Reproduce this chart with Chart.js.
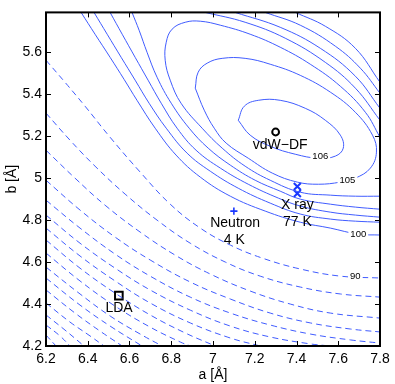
<!DOCTYPE html>
<html><head><meta charset="utf-8">
<script src="https://cdn.jsdelivr.net/npm/chart.js@4"></script>
<style>html,body{margin:0;padding:0;background:#fff}canvas{display:block}</style>
</head><body>
<canvas id="c" width="395" height="384"></canvas>
<script>
// ---- axes ----
const xRange = [6.2, 7.8];
const yRange = [4.2, 5.79];
const xTicks = [6.2, 6.4, 6.6, 6.8, 7.0, 7.2, 7.4, 7.6, 7.8];
const yTicks = [4.2, 4.4, 4.6, 4.8, 5.0, 5.2, 5.4, 5.6];

// ---- contour lines: [a, b] ----
const lvl106 = [[7.121,5.276],[7.150,5.343],[7.217,5.371],[7.322,5.371],[7.442,5.333],[7.538,5.276],[7.610,5.205],[7.624,5.143],[7.586,5.105],[7.505,5.095],[7.394,5.114],[7.274,5.152],[7.178,5.205],[7.121,5.276]];
const lvl105 = [[6.915,5.429],[6.929,5.505],[6.972,5.548],[7.044,5.571],[7.154,5.571],[7.274,5.543],[7.418,5.490],[7.562,5.410],[7.682,5.314],[7.764,5.205],[7.783,5.124],[7.754,5.048],[7.682,5.000],[7.610,4.981],[7.505,4.971],[7.404,4.981],[7.284,5.024],[7.169,5.095],[7.063,5.167],[7.006,5.238],[6.958,5.324],[6.915,5.429]];
const lvl104 = [[7.8,5.195],[7.730,5.314],[7.610,5.438],[7.466,5.543],[7.322,5.624],[7.178,5.686],[7.035,5.729],[6.939,5.748],[6.867,5.743],[6.804,5.710],[6.776,5.648],[6.771,5.562],[6.795,5.467],[6.847,5.357],[6.948,5.238],[7.044,5.143],[7.154,5.057],[7.274,4.990],[7.418,4.933],[7.562,4.919],[7.682,4.914],[7.8,4.914]];
const lvl103Near = [[6.612,5.790],[6.646,5.705],[6.684,5.600],[6.732,5.481],[6.800,5.357],[6.886,5.238],[6.977,5.143],[7.083,5.062],[7.202,4.990],[7.322,4.938],[7.418,4.900],[7.562,4.876],[7.682,4.862],[7.8,4.852]];
const lvl103Far = [[6.963,5.790],[7.154,5.743],[7.346,5.667],[7.538,5.552],[7.682,5.429],[7.8,5.276]];
const lvl102Near = [[6.507,5.790],[6.565,5.686],[6.627,5.576],[6.689,5.467],[6.752,5.357],[6.828,5.238],[6.919,5.133],[7.035,5.048],[7.169,4.971],[7.313,4.905],[7.418,4.867],[7.562,4.838],[7.682,4.824],[7.8,4.814]];
const lvl102Far = [[7.106,5.790],[7.322,5.719],[7.514,5.619],[7.682,5.486],[7.8,5.333]];
const lvl101Near = [[6.430,5.790],[6.493,5.686],[6.560,5.576],[6.627,5.467],[6.694,5.357],[6.776,5.238],[6.876,5.119],[6.987,5.033],[7.121,4.952],[7.274,4.881],[7.418,4.829],[7.562,4.805],[7.682,4.795],[7.8,4.790]];
const lvl101Far = [[7.250,5.790],[7.418,5.729],[7.586,5.629],[7.706,5.524],[7.8,5.405]];
const lvl100Near = [[6.368,5.790],[6.435,5.686],[6.507,5.576],[6.574,5.471],[6.636,5.371],[6.723,5.238],[6.823,5.110],[6.939,5.005],[7.083,4.914],[7.250,4.843],[7.418,4.790],[7.562,4.762],[7.696,4.733],[7.8,4.729]];
const lvl100Far = [[7.394,5.790],[7.538,5.724],[7.682,5.619],[7.8,5.457]];
const lvl90 = [[6.2,5.562],[6.291,5.457],[6.387,5.343],[6.507,5.195],[6.651,5.029],[6.795,4.876],[6.939,4.762],[7.083,4.681],[7.236,4.619],[7.418,4.567],[7.610,4.533],[7.8,4.524]];
const lvl80 = [[6.2,5.310],[6.315,5.181],[6.435,5.057],[6.579,4.924],[6.732,4.800],[6.891,4.690],[7.059,4.600],[7.226,4.533],[7.418,4.481],[7.610,4.448],[7.8,4.433]];
const lvl70 = [[6.2,5.133],[6.339,5.000],[6.483,4.871],[6.651,4.743],[6.819,4.633],[6.987,4.543],[7.178,4.462],[7.370,4.400],[7.562,4.357],[7.8,4.333]];
const lvl60 = [[6.2,4.990],[6.363,4.848],[6.531,4.719],[6.699,4.610],[6.891,4.505],[7.083,4.424],[7.274,4.357],[7.466,4.310],[7.658,4.281],[7.8,4.267]];
const lvl50 = [[6.2,4.895],[6.363,4.762],[6.531,4.638],[6.699,4.533],[6.891,4.433],[7.083,4.357],[7.274,4.300],[7.466,4.257],[7.658,4.229],[7.8,4.214]];
const lvl40 = [[6.2,4.824],[6.363,4.690],[6.531,4.571],[6.699,4.467],[6.891,4.371],[7.083,4.295],[7.274,4.243],[7.466,4.210],[7.562,4.2]];
const lvl30 = [[6.2,4.762],[6.363,4.629],[6.531,4.510],[6.699,4.405],[6.891,4.310],[7.083,4.238],[7.226,4.2]];
const lvl20 = [[6.2,4.705],[6.363,4.571],[6.531,4.452],[6.699,4.348],[6.867,4.262],[7.011,4.2]];
const lvl10 = [[6.2,4.643],[6.363,4.510],[6.531,4.390],[6.699,4.290],[6.843,4.219],[6.891,4.2]];
const lvl0 = [[6.2,4.576],[6.363,4.448],[6.507,4.343],[6.651,4.257],[6.756,4.2]];
const lvlM10 = [[6.2,4.524],[6.363,4.395],[6.507,4.295],[6.660,4.2]];
const lvlM20 = [[6.2,4.467],[6.339,4.357],[6.459,4.271],[6.565,4.2]];
const lvlM30 = [[6.2,4.405],[6.315,4.314],[6.411,4.248],[6.478,4.2]];
const lvlM40 = [[6.2,4.348],[6.291,4.276],[6.382,4.2]];
const lvlM50 = [[6.2,4.300],[6.267,4.248],[6.315,4.2]];
const lvlM60 = [[6.2,4.252],[6.248,4.2]];

// contour labels
const levelText = ['106', '105', '100', '90'];
const levelA = [7.514, 7.644, 7.696, 7.682];
const levelB = [5.105, 4.990, 4.733, 4.533];

// ---- marked points ----
const vdwPoint = [[7.30, 5.22]];
const xrayPoints = [[7.404, 4.960], [7.404, 4.927]];
const neutronPoint = [[7.10, 4.843]];
const ldaPoint = [[6.549, 4.440]];

// annotation texts
const noteText = ['vdW\u2212DF', 'X ray', '77 K', 'Neutron', '4 K', 'LDA'];
const noteA = [7.322, 7.404, 7.404, 7.106, 7.102, 6.550];
const noteB = [5.157, 4.871, 4.790, 4.786, 4.705, 4.381];

const FONT = "'Liberation Sans', Arial, Helvetica, sans-serif";
const LINE = 'rgb(64,92,255)';
const MARK_BLUE = 'rgb(25,55,255)';

const solidLines = [lvl106, lvl105, lvl104, lvl103Near, lvl103Far, lvl102Near, lvl102Far, lvl101Near, lvl101Far, lvl100Near, lvl100Far];
const dashedLines = [lvl90, lvl80, lvl70, lvl60, lvl50, lvl40, lvl30, lvl20, lvl10, lvl0, lvlM10, lvlM20, lvlM30, lvlM40, lvlM50, lvlM60];
const toXY = arr => arr.map(([x, y]) => ({x, y}));

const datasets = [];
solidLines.forEach(d => datasets.push({data: toXY(d), showLine: true, pointRadius: 0, borderColor: LINE, borderWidth: 1, tension: 0.4}));
dashedLines.forEach(d => datasets.push({data: toXY(d), showLine: true, pointRadius: 0, borderColor: LINE, borderWidth: 1, borderDash: [6, 4], tension: 0.4}));
datasets.push({data: toXY(vdwPoint), pointStyle: 'circle', pointRadius: 3.4, pointBorderWidth: 2, pointBorderColor: '#000', pointBackgroundColor: 'rgba(0,0,0,0)'});
datasets.push({data: toXY(xrayPoints), pointStyle: 'crossRot', pointRadius: 5, pointBorderWidth: 2, pointBorderColor: MARK_BLUE});
datasets.push({data: toXY(neutronPoint), pointStyle: 'cross', pointRadius: 3.6, pointBorderWidth: 1.6, pointBorderColor: MARK_BLUE});
datasets.push({data: toXY(ldaPoint), pointStyle: 'rect', pointRadius: 5.4, pointBorderWidth: 2, pointBorderColor: '#000', pointBackgroundColor: 'rgba(0,0,0,0)'});

const overlay = {
  id: 'overlay',
  afterDatasetsDraw(chart) {
    const {ctx, chartArea: ca, scales: {x, y}} = chart;
    ctx.save();
    // contour labels
    ctx.font = '9.5px ' + FONT;
    ctx.textAlign = 'center';
    ctx.textBaseline = 'middle';
    levelText.forEach((t, i) => {
      const px = x.getPixelForValue(levelA[i]), py = y.getPixelForValue(levelB[i]);
      const w = ctx.measureText(t).width + 4;
      ctx.fillStyle = '#fff';
      ctx.fillRect(px - w / 2, py - 5, w, 10);
      ctx.fillStyle = '#000';
      ctx.fillText(t, px, py + 0.5);
    });
    // annotations
    ctx.font = '14px ' + FONT;
    ctx.fillStyle = '#000';
    noteText.forEach((t, i) => {
      ctx.fillText(t, x.getPixelForValue(noteA[i]), y.getPixelForValue(noteB[i]));
    });
    // frame and inward ticks
    ctx.strokeStyle = '#000';
    ctx.lineWidth = 1;
    const tl = 5;
    ctx.beginPath();
    xTicks.forEach(v => {
      const px = Math.round(x.getPixelForValue(v)) + 0.5;
      ctx.moveTo(px, ca.bottom); ctx.lineTo(px, ca.bottom - tl);
      ctx.moveTo(px, ca.top); ctx.lineTo(px, ca.top + tl);
    });
    yTicks.forEach(v => {
      const py = Math.round(y.getPixelForValue(v)) + 0.5;
      ctx.moveTo(ca.left, py); ctx.lineTo(ca.left + tl, py);
      ctx.moveTo(ca.right, py); ctx.lineTo(ca.right - tl, py);
    });
    ctx.stroke();
    ctx.lineWidth = 2;
    ctx.strokeRect(ca.left, ca.top, ca.right - ca.left, ca.bottom - ca.top);
    ctx.restore();
  }
};

new Chart(document.getElementById('c'), {
  type: 'scatter',
  data: {datasets},
  options: {
    responsive: false,
    animation: false,
    devicePixelRatio: 1,
    layout: {padding: {top: 12, right: 15, left: 0, bottom: 0}},
    plugins: {legend: {display: false}, tooltip: {enabled: false}},
    scales: {
      x: {
        type: 'linear', min: xRange[0], max: xRange[1],
        grid: {display: false, drawTicks: false}, border: {display: false},
        afterBuildTicks: s => { s.ticks = xTicks.map(v => ({value: v})); },
        afterFit: s => { s.height = 38; },
        ticks: {padding: 5, color: '#000', font: {family: FONT, size: 14}, maxRotation: 0, autoSkip: false,
          callback: v => String(Number(v.toFixed(1)))},
        title: {display: true, text: 'a [\u00c5]', color: '#000', font: {family: FONT, size: 14}, padding: {top: 0, bottom: 0}}
      },
      y: {
        type: 'linear', min: yRange[0], max: yRange[1],
        grid: {display: false, drawTicks: false}, border: {display: false},
        afterBuildTicks: s => { s.ticks = yTicks.map(v => ({value: v})); },
        afterFit: s => { s.width = 46; },
        ticks: {padding: 4, color: '#000', font: {family: FONT, size: 14}, autoSkip: false,
          callback: v => String(Number(v.toFixed(1)))},
        title: {display: true, text: 'b [\u00c5]', color: '#000', font: {family: FONT, size: 14}, padding: {top: 4, bottom: 0}}
      }
    }
  },
  plugins: [overlay]
});
</script>
</body></html>
